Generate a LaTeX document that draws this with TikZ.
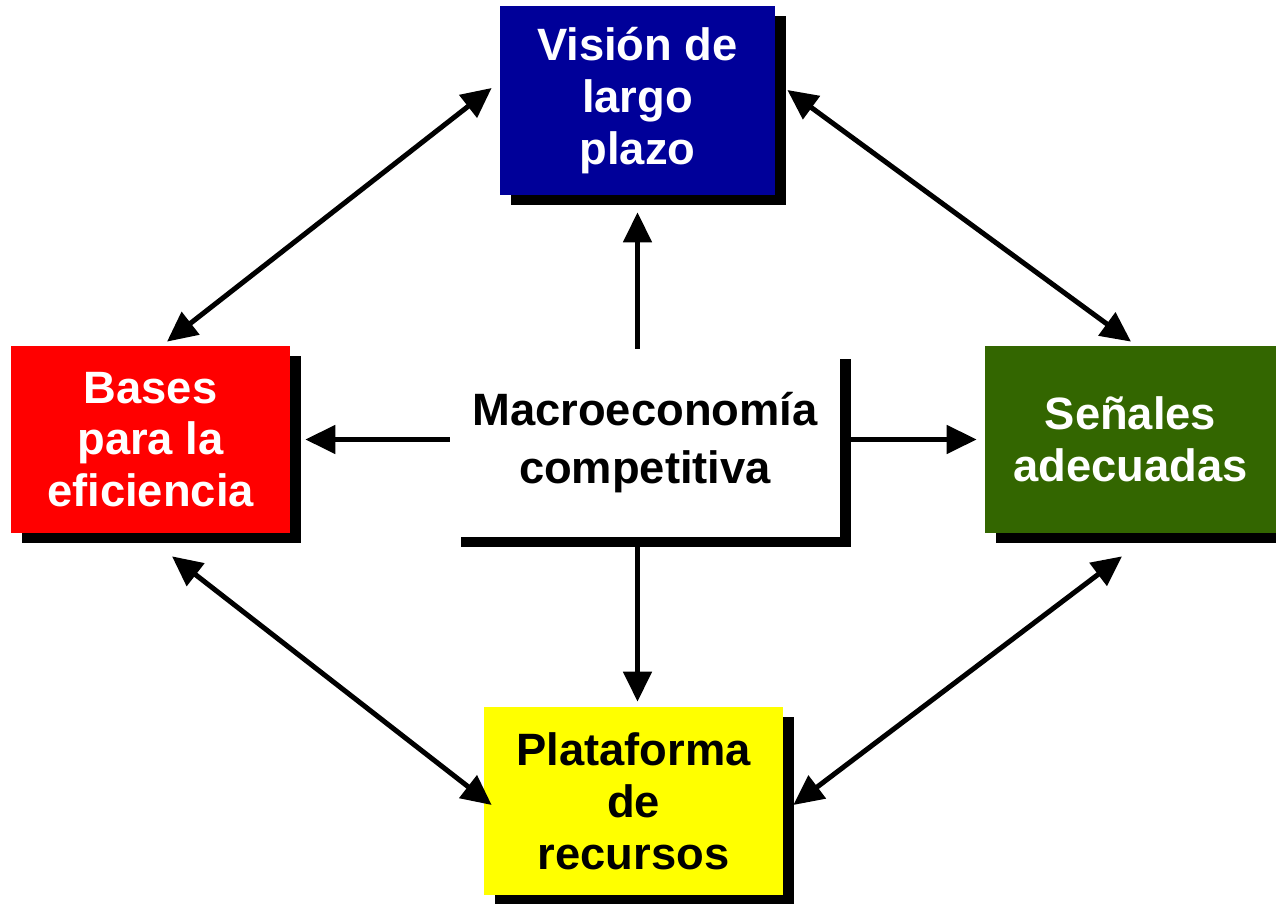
\documentclass[tikz,border=0pt]{standalone}
\usepackage{fontspec}
\setmainfont{Liberation Sans}
\usepackage{tikz}
\usetikzlibrary{arrows.meta, calc, shadows}
\definecolor{visblue}{RGB}{0, 0, 153}
\definecolor{basred}{RGB}{255, 0, 0}
\definecolor{sengreen}{RGB}{51, 102, 0}
\definecolor{platyellow}{RGB}{255, 255, 0}

\begin{document}
\begin{tikzpicture}[
    box/.style={rectangle, inner sep=0pt, align=center,
      font=\fontsize{25.8}{29.5}\selectfont\bfseries,
      drop shadow={fill=black, opacity=1, shadow xshift=0.22cm, shadow yshift=-0.2cm}},
    link/.style={line width=0.1cm, {Triangle[length=0.6cm, width=0.56cm]}-{Triangle[length=0.6cm, width=0.56cm]}},
    push/.style={line width=0.1cm, -{Triangle[length=0.6cm, width=0.56cm]}}
  ]
  \useasboundingbox (0, 0) rectangle (25.52, 18.08);

  % Outer boxes
  \node[box, fill=visblue, text=white, minimum width=5.5cm, minimum height=3.78cm] (vision) at (12.75, 16.07) {Visión de\\largo\\plazo};
  \node[box, fill=basred, text=white, minimum width=5.58cm, minimum height=3.74cm] (bases) at (3.01, 9.29) {Bases\\para la\\eficiencia};
  \node[box, fill=sengreen, text=white, minimum width=5.82cm, minimum height=3.74cm] (senales) at (22.61, 9.29) {Señales\\adecuadas};
  \node[box, fill=platyellow, text=black, minimum width=5.98cm, minimum height=3.76cm] (plat) at (12.67, 2.06) {Plataforma\\de\\recursos};

  % Centre box
  \node[box, fill=white, text=black, minimum width=7.8cm, minimum height=3.76cm,
    font=\fontsize{25.8}{33}\selectfont\bfseries] (macro) at (12.9, 9.22) {Macroeconomía\\competitiva};

  % Arrows from the centre
  \draw[push] (macro.north -| vision.south) -- ($(vision.south)+(0, -0.34)$);
  \draw[push] ($(macro.south -| vision.south)+(0, -0.2)$) -- ($(plat.north -| vision.south)+(0, 0.1)$);
  \draw[push] (macro.west |- bases.east) -- ($(bases.east)+(0.3, 0)$);
  \draw[push] ($(macro.east |- senales.west)+(0.22, 0)$) -- ($(senales.west)+(-0.16, 0)$);

  % Links between the outer boxes
  \draw[link] ($(vision.west)+(-0.16, 0.25)$) -- ($(bases.north)+(0.33, 0.08)$);
  \draw[link] ($(vision.east)+(0.24, 0.21)$) -- ($(senales.north)+(0.01, 0.08)$);
  \draw[link] ($(bases.south)+(0.43, -0.46)$) -- ($(plat.west)+(0.16, -0.08)$);
  \draw[link] ($(senales.south)+(-0.17, -0.46)$) -- ($(plat.east)+(0.2, -0.08)$);
\end{tikzpicture}
\end{document}
